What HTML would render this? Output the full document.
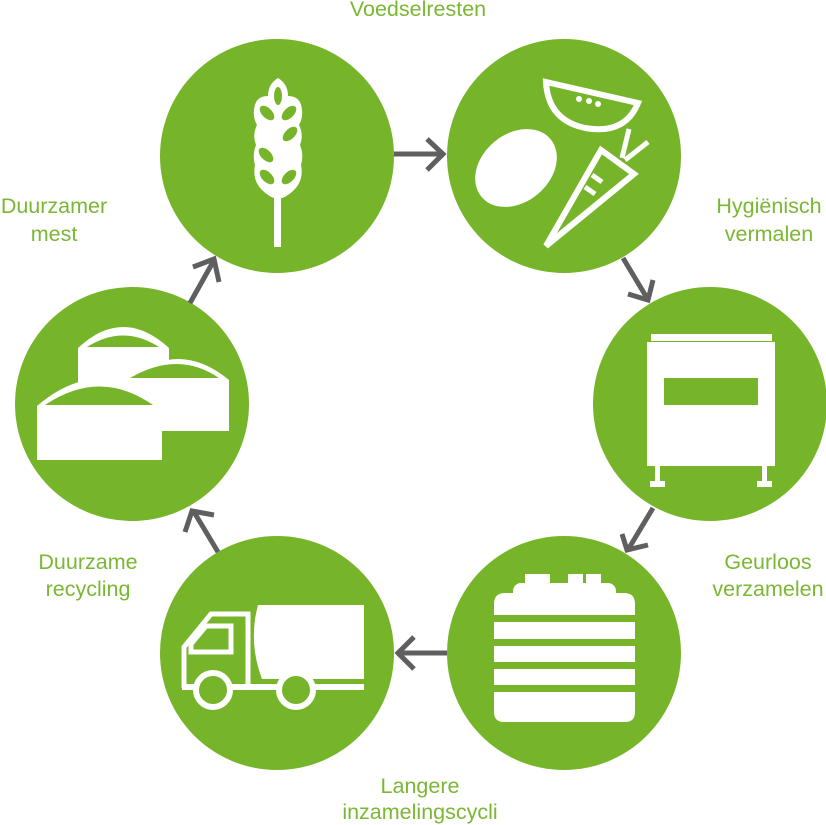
<!DOCTYPE html>
<html><head><meta charset="utf-8">
<style>
html,body{margin:0;padding:0;background:#fff;}
svg{display:block;}
text{font-family:"Liberation Sans",sans-serif;font-size:21.5px;fill:#7ab733;}
</style></head>
<body>
<svg width="826" height="825" viewBox="0 0 826 825" xmlns="http://www.w3.org/2000/svg">
<g fill="#76b52a">
<circle cx="277" cy="156" r="117"/>
<circle cx="564" cy="156" r="117"/>
<circle cx="710" cy="404" r="117"/>
<circle cx="132" cy="404" r="117"/>
<circle cx="277" cy="653" r="117"/>
<circle cx="564" cy="653" r="117"/>
</g>
<g stroke="#5f5f5f" stroke-width="5" fill="none" stroke-linecap="butt" stroke-linejoin="miter">
<line x1="394" y1="154" x2="443" y2="154"/><polyline points="427,139 443,154 427,170"/>
<line x1="623" y1="258" x2="647" y2="298"/><polyline points="628,294 648,300 653,280"/>
<line x1="653" y1="508" x2="629" y2="548"/><polyline points="622,534 627,550 648,545"/>
<line x1="447" y1="653" x2="398" y2="653"/><polyline points="414,637 398,653 414,669"/>
<line x1="218" y1="552" x2="194" y2="512"/><polyline points="185,532 192,511 214,515"/>
<line x1="190" y1="303" x2="213" y2="262"/><polyline points="193,267 214,259 219,282"/>
</g>
<g fill="#fff">
<rect x="274" y="195" width="7" height="52"/>
<path d="M278,78 Q268,84 268,96 Q255,96 254,110 Q253,118 257,125 Q252,135 256,145 Q252,155 255,165 Q252,180 262,190 Q270,198 278,199 Q286,198 294,190 Q304,180 301,165 Q304,155 300,145 Q304,135 299,125 Q303,118 302,110 Q301,96 288,96 Q288,84 278,78Z"/>
</g>
<g fill="#76b52a">
<ellipse cx="278" cy="96" rx="4" ry="9"/>
<ellipse cx="267" cy="113" rx="5" ry="9" transform="rotate(-45 267 113)"/>
<ellipse cx="289" cy="113" rx="5" ry="9" transform="rotate(45 289 113)"/>
<ellipse cx="290" cy="134" rx="5" ry="9" transform="rotate(45 290 134)"/>
<ellipse cx="266" cy="155" rx="5" ry="9" transform="rotate(-45 266 155)"/>
<ellipse cx="267" cy="177" rx="5" ry="9" transform="rotate(-45 267 177)"/>
<ellipse cx="289" cy="177" rx="5" ry="9" transform="rotate(45 289 177)"/>
</g>
<ellipse cx="516" cy="168" rx="45" ry="34" transform="rotate(-40 516 168)" fill="#fff"/>
<path d="M546,82 L638,103 Q625,135 585,128 Q548,120 546,82Z" fill="none" stroke="#fff" stroke-width="6" stroke-linejoin="miter"/>
<circle cx="579" cy="99" r="3" fill="#fff"/><circle cx="589" cy="101" r="3" fill="#fff"/><circle cx="598" cy="104" r="3" fill="#fff"/>
<path d="M546,246 L601,150 L634,174 Z" fill="none" stroke="#fff" stroke-width="6" stroke-linejoin="miter"/>
<g stroke="#fff" stroke-width="5">
<line x1="622" y1="158" x2="629" y2="129"/><line x1="625" y1="160" x2="648" y2="142"/>
<line x1="592" y1="175" x2="602" y2="182"/><line x1="585" y1="187" x2="595" y2="194"/>
</g>
<g fill="#fff">
<rect x="651" y="334" width="121" height="7"/>
<rect x="647" y="345" width="128" height="121"/>
<rect x="655" y="466" width="5" height="16"/><rect x="650" y="481" width="15" height="6"/>
<rect x="762" y="466" width="5" height="16"/><rect x="757" y="481" width="15" height="6"/>
</g>
<rect x="664" y="378" width="94" height="27" fill="#76b52a"/>
<rect x="647" y="342" width="128" height="3" fill="#fff"/>
<path d="M78,348 L78,400 L169,400 L169,348 Q123,306 78,348Z" fill="#fff"/>
<path d="M87,347 Q123,324 159,347Z" fill="#76b52a"/>
<path d="M128,380 L128,431 L229,431 L229,380 Q178,338 128,380Z" fill="#fff"/>
<path d="M130,378 Q178,350 219,378Z" fill="#76b52a"/>
<path d="M37,406 L37,460 L162,460 L162,406 Q100,352 37,406Z" fill="#fff"/>
<path d="M45,405 Q100,368 153,405Z" fill="#76b52a"/>
<g fill="none" stroke="#fff" stroke-width="5">
<path d="M184,688 L184,647 L211,614 L248,614 L248,688"/>
<path d="M191,652 L191,644 L206,626 L231,626 L231,652 Z"/>
</g>
<path d="M258,605 L364,605 L364,679 L262,679 Q248,642 258,605Z" fill="#fff"/>
<rect x="182" y="684" width="182" height="6" fill="#fff"/>
<circle cx="213" cy="690" r="17" fill="#76b52a" stroke="#fff" stroke-width="6"/>
<circle cx="296" cy="690" r="17" fill="#76b52a" stroke="#fff" stroke-width="6"/>
<g fill="#fff">
<rect x="525" y="574" width="25" height="12"/>
<rect x="568" y="574" width="15" height="12"/>
<rect x="586" y="574" width="15" height="12"/>
<rect x="513" y="583" width="103" height="18" rx="8"/>
<path d="M494,615 L494,604 Q494,593 505,593 L624,593 Q635,593 635,604 L635,615Z"/>
<rect x="494" y="622" width="141" height="17"/>
<rect x="494" y="646" width="141" height="16"/>
<rect x="494" y="669" width="141" height="16"/>
<path d="M494,692 L635,692 L635,712 Q635,722 625,722 L504,722 Q494,722 494,712Z"/>
</g>
<text x="418" y="16" text-anchor="middle">Voedselresten</text>
<text x="769" y="213" text-anchor="middle">Hygiënisch</text>
<text x="769" y="241" text-anchor="middle">vermalen</text>
<text x="54" y="213" text-anchor="middle">Duurzamer</text>
<text x="54" y="241" text-anchor="middle">mest</text>
<text x="768" y="569" text-anchor="middle">Geurloos</text>
<text x="768" y="596" text-anchor="middle">verzamelen</text>
<text x="88" y="569" text-anchor="middle">Duurzame</text>
<text x="88" y="596" text-anchor="middle">recycling</text>
<text x="420" y="793" text-anchor="middle">Langere</text>
<text x="420" y="819" text-anchor="middle">inzamelingscycli</text>
</svg>
</body></html>
